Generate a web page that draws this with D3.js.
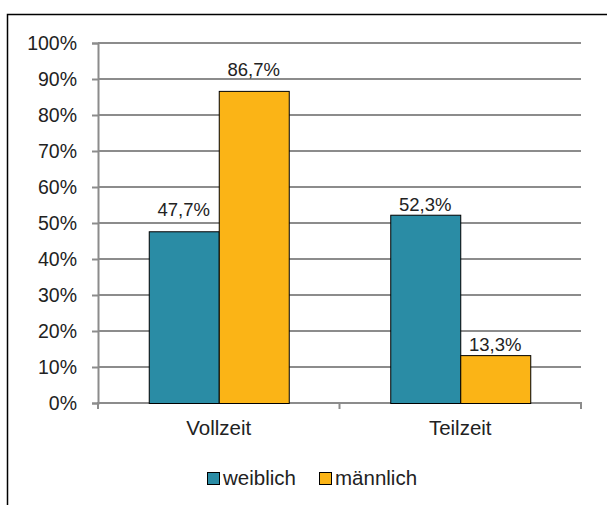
<!DOCTYPE html>
<html><head><meta charset="utf-8">
<script src="https://cdn.jsdelivr.net/npm/d3@7"></script>
<style>body{margin:0;background:#fff;} text{font-family:"Liberation Sans",Arial,sans-serif;fill:#222;}</style>
</head><body>
<svg id="c" width="607" height="505"></svg>
<script>
const categories = ["Vollzeit", "Teilzeit"];
const seriesNames = ["weiblich", "männlich"];
const weiblich = [47.7, 52.3];
const maennlich = [86.7, 13.3];
const yTicks = [0,10,20,30,40,50,60,70,80,90,100];
const colors = ["#2A8CA5", "#FBB416"];

const svg = d3.select("#c");
// frame
svg.append("rect").attr("x",7.5).attr("y",14.5).attr("width",640).attr("height",520)
  .attr("fill","none").attr("stroke","#000").attr("stroke-width",1.5);

const x0 = d3.scaleBand().domain(categories).range([98,581]).paddingInner(0).paddingOuter(0);
const y = d3.scaleLinear().domain([0,100]).range([403,43]);
const groupW = 140;
const x1 = d3.scaleBand().domain(seriesNames).range([0,groupW]);

// gridlines
svg.append("g").selectAll("line").data(yTicks.filter(d=>d>0)).join("line")
  .attr("x1",98).attr("x2",581).attr("y1",d=>y(d)).attr("y2",d=>y(d))
  .attr("stroke","#8c8c8c").attr("stroke-width",2);

// y axis
const yAxis = d3.axisLeft(y).tickValues(yTicks).tickSize(6).tickPadding(15).tickFormat(d=>d+"%");
const gy = svg.append("g").attr("transform","translate(98,0)").call(yAxis);
gy.select(".domain").attr("stroke","#8c8c8c").attr("stroke-width",2);
gy.selectAll(".tick line").attr("stroke","#8c8c8c").attr("stroke-width",2);
gy.selectAll(".tick text").style("font-size","19.5px").style("font-family","Liberation Sans, Arial, sans-serif").attr("fill","#222");

// x axis
const gx = svg.append("g").attr("transform","translate(0,403)");
gx.append("line").attr("x1",97).attr("x2",582).attr("y1",0).attr("y2",0).attr("stroke","#8c8c8c").attr("stroke-width",2);
const xb = [98, x0("Teilzeit"), 581];
gx.selectAll(".xt").data(xb).join("line").attr("class","xt")
  .attr("x1",d=>d).attr("x2",d=>d).attr("y1",0).attr("y2",6).attr("stroke","#8c8c8c").attr("stroke-width",2);
gx.selectAll(".xl").data(categories).join("text").attr("class","xl")
  .attr("x",d=>x0(d)+x0.bandwidth()/2).attr("y",32).attr("text-anchor","middle")
  .style("font-size","20.5px").text(d=>d);

// bars
const data = categories.map((c,i)=>({cat:c, vals:[weiblich[i], maennlich[i]]}));
const groups = svg.append("g").selectAll("g").data(data).join("g")
  .attr("transform",d=>`translate(${x0(d.cat)+x0.bandwidth()/2-groupW/2},0)`);
const labelGap = c => c === "Vollzeit" ? 15 : 4;
groups.selectAll("rect").data(d=>d.vals.map((v,j)=>({v, s:seriesNames[j], j, cat:d.cat}))).join("rect")
  .attr("x",d=>x1(d.s)+0.5).attr("width",x1.bandwidth())
  .attr("y",d=>y(d.v)+0.5).attr("height",d=>y(0)-y(d.v))
  .attr("fill",d=>colors[d.j]).attr("stroke","#000").attr("stroke-width",1);
groups.selectAll("text").data(d=>d.vals.map((v,j)=>({v, s:seriesNames[j], j, cat:d.cat}))).join("text")
  .attr("x",d=>x1(d.s)+x1.bandwidth()/2).attr("y",d=>y(d.v)-labelGap(d.cat))
  .attr("text-anchor","middle").style("font-size","18.5px")
  .text(d=>d.v.toFixed(1).replace(".",",")+"%");

// legend
const leg = svg.append("g");
const legX = [207, 319];
seriesNames.forEach((s,i)=>{
  leg.append("rect").attr("x",legX[i]+0.5).attr("y",472.5).attr("width",12).attr("height",12)
    .attr("fill",colors[i]).attr("stroke","#000").attr("stroke-width",1);
  leg.append("text").attr("x",legX[i]+16).attr("y",485).style("font-size","20.5px").text(s);
});
</script>
</body></html>
